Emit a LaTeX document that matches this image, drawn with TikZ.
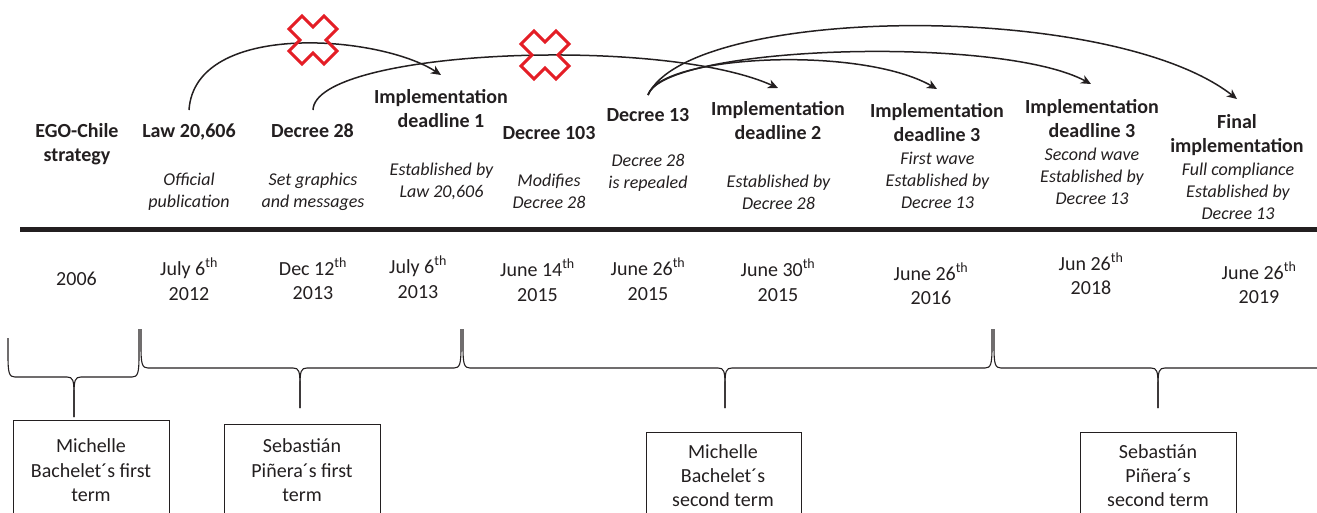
\documentclass[tikz,border=0pt]{standalone}
\usepackage{fontspec}
\setmainfont{Carlito}
\usetikzlibrary{arrows.meta}
\definecolor{ink}{RGB}{35,31,32}
\definecolor{xred}{RGB}{228,30,38}
\newcommand{\ml}[1]{\begin{tabular}[t]{@{}c@{}}#1\end{tabular}}
\newcommand{\thsup}{\textsuperscript{th}}
\begin{document}
\begin{tikzpicture}[x=1pt,y=-1pt,
  title/.style={anchor=base,inner sep=0pt,font=\fontsize{20}{24}\selectfont\bfseries,text=ink},
  desc/.style={anchor=base,inner sep=0pt,font=\fontsize{18}{22}\selectfont\itshape,text=ink},
  datetxt/.style={anchor=base,inner sep=0pt,font=\fontsize{20}{24.5}\selectfont,text=ink},
  boxtxt/.style={anchor=base,inner sep=0pt,font=\fontsize{20}{24.4}\selectfont,text=ink},
  arr/.style={line width=1.5pt,draw=ink,-{Stealth[length=10pt,width=9pt,inset=3pt]}},
  bracepath/.style={line width=1.1pt,draw=ink},
  termbox/.style={line width=0.9pt,draw=ink},
  cross/.style={draw=xred,line width=3pt,line join=miter}]
\useasboundingbox (0,0) rectangle (1317,512);
\clip (0,0) rectangle (1317,512);

% main timeline bar
\draw[line width=5.5pt,draw=ink] (20,229.7) -- (1317,229.7);

% titles
\node[title] (ego) at (77,137.5) {\ml{EGO-Chile\\strategy}};
\node[title] (law) at (189,137.5) {\ml{Law 20,606}};
\node[title] (d28) at (312.5,137.5) {\ml{Decree 28}};
\node[title] (imp1) at (441,103.3) {\ml{Implementation\\deadline 1}};
\node[title] (d103) at (549,139) {\ml{Decree 103}};
\node[title] (d13) at (648,121.7) {\ml{Decree 13}};
\node[title] (imp2) at (778,115.5) {\ml{Implementation\\deadline 2}};
\node[title] (imp3a) at (937,117) {\ml{Implementation\\deadline 3}};
\node[title] (imp3b) at (1092,113.3) {\ml{Implementation\\deadline 3}};
\node[title] (fin) at (1237,128) {\ml{Final\\implementation}};

% descriptions
\node[desc] (lawd) at (189,185.5) {\ml{Official\\publication}};
\node[desc] (d28d) at (313,185.3) {\ml{Set graphics\\and messages}};
\node[desc] (imp1d) at (441.5,175.7) {\ml{Established by\\Law 20,606}};
\node[desc] (d103d) at (549,186.7) {\ml{Modifies\\Decree 28}};
\node[desc] (d13d) at (648,166.7) {\ml{Decree 28\\is repealed}};
\node[desc] (imp2d) at (778.5,187.3) {\ml{Established by\\Decree 28}};
\node[desc] (imp3ad) at (937.5,164) {\ml{First wave\\Established by\\Decree 13}};
\node[desc] (imp3bd) at (1092,160) {\ml{Second wave\\Established by\\Decree 13}};
\node[desc] (find) at (1238,175) {\ml{Full compliance\\Established by\\Decree 13}};

% dates
\node[datetxt] (t2006) at (76.5,285) {\ml{2006}};
\node[datetxt] (t2012) at (189,275.5) {\ml{July 6\thsup\\2012}};
\node[datetxt] (t2013a) at (313,275) {\ml{Dec 12\thsup\\2013}};
\node[datetxt] (t2013b) at (418,273.5) {\ml{July 6\thsup\\2013}};
\node[datetxt] (t2015a) at (537.5,276.5) {\ml{June 14\thsup\\2015}};
\node[datetxt] (t2015b) at (648,275.5) {\ml{June 26\thsup\\2015}};
\node[datetxt] (t2015c) at (778,276.5) {\ml{June 30\thsup\\2015}};
\node[datetxt] (t2016) at (931,280) {\ml{June 26\thsup\\2016}};
\node[datetxt] (t2018) at (1091,270) {\ml{Jun 26\thsup\\2018}};
\node[datetxt] (t2019) at (1259,279) {\ml{June 26\thsup\\2019}};

% arrow anchors
\coordinate (aLaw) at (189,110);
\coordinate (aD28) at (313,110);
\coordinate (aD13) at (648,95);
\coordinate (aImp1) at (441,75);
\coordinate (aImp2) at (778,88);
\coordinate (aImp3a) at (937,89);
\coordinate (aImp3b) at (1091,84);
\coordinate (aFin) at (1237,99);

\draw[arr] (aLaw) .. controls (195,20) and (380,35) .. (aImp1);
\draw[arr] (aD28) .. controls (315,50) and (660,35) .. (aImp2);
\draw[arr] (aD13) .. controls (660,55) and (860,45) .. (aImp3a);
\draw[arr] (aD13) .. controls (665,45) and (1000,35) .. (aImp3b);
\draw[arr] (aD13) .. controls (690,5) and (1110,0) .. (aFin);

% red crosses
\foreach \cx/\cy in {313/40, 545/55}{
  \draw[cross,shift={(\cx,\cy)}] (0,-13) -- (11,-24) -- (24,-11) -- (13,0) -- (24,11) -- (11,24) -- (0,13) -- (-11,24) -- (-24,11) -- (-13,0) -- (-24,-11) -- (-11,-24) -- cycle;
}

% braces
% brace 1
\draw[bracepath] (8,338) -- (8,355) .. controls (8,373) and (9,377) .. (15,377) -- (67,377)
  .. controls (73,377) and (74,380) .. (74,395) -- (74,417);
\draw[bracepath] (74,417) -- (74,395) .. controls (74,380) and (75,377) .. (81,377) -- (132,377)
  .. controls (138,377) and (139,373) .. (139,355) -- (139,329);
% brace 2
\draw[bracepath] (141,329) -- (141,346) .. controls (141,364) and (142,368) .. (148,368) -- (293,368)
  .. controls (299,368) and (300,371) .. (300,386) -- (300,408);
\draw[bracepath] (300,408) -- (300,386) .. controls (300,371) and (301,368) .. (307,368) -- (454,368)
  .. controls (460,368) and (461,364) .. (461,346) -- (461,329);
% brace 3
\draw[bracepath] (463,329) -- (463,346) .. controls (463,364) and (464,368) .. (470,368) -- (718,368)
  .. controls (724,368) and (725,371) .. (725,386) -- (725,408);
\draw[bracepath] (725,408) -- (725,386) .. controls (725,371) and (726,368) .. (732,368) -- (985,368)
  .. controls (991,368) and (992,364) .. (992,346) -- (992,329);
% brace 4
\draw[bracepath] (994,329) -- (994,346) .. controls (994,364) and (995,368) .. (1001,368) -- (1151,368)
  .. controls (1157,368) and (1158,371) .. (1158,386) -- (1158,408);
\draw[bracepath] (1158,408) -- (1158,386) .. controls (1158,371) and (1159,368) .. (1165,368) -- (1320,368);

% term boxes
\draw[termbox] (13,420) rectangle (169,530);
\draw[termbox] (224,424) rectangle (380,530);
\draw[termbox] (646,432) rectangle (801,530);
\draw[termbox] (1080,432) rectangle (1236,530);

\node[boxtxt] (b1) at (91,452.7) {\ml{Michelle\\Bachelet´s first\\term}};
\node[boxtxt] (b2) at (302,452.7) {\ml{Sebastián\\Piñera´s first\\term}};
\node[boxtxt] (b3) at (723,458) {\ml{Michelle\\Bachelet´s\\second term}};
\node[boxtxt] (b4) at (1158,458) {\ml{Sebastián\\Piñera´s\\second term}};
\end{tikzpicture}
\end{document}
